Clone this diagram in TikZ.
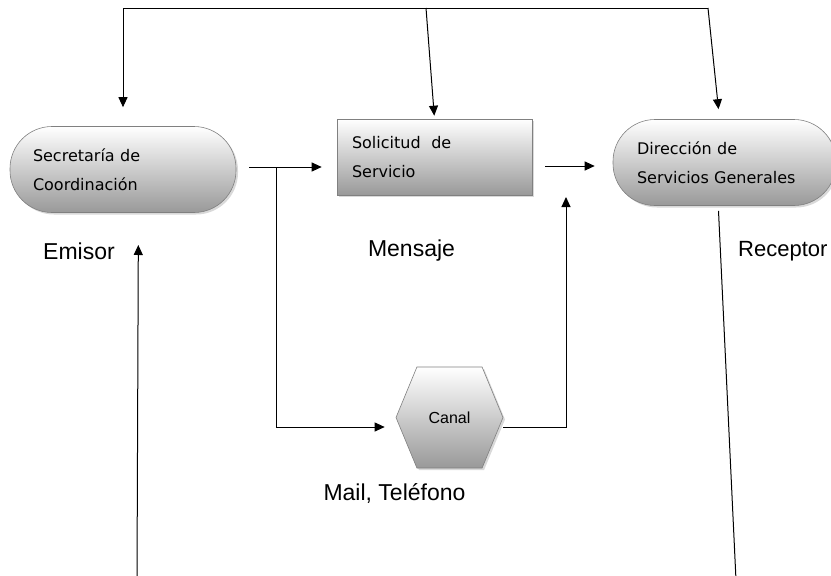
\documentclass[tikz,border=0pt]{standalone}
\usepackage{fontspec}
\setmainfont{Liberation Sans}
\newfontfamily\cajafont{DejaVu Sans}
\usetikzlibrary{arrows.meta,calc,shadows,shapes.symbols}

\begin{document}
\begin{tikzpicture}[x=1pt,y=-1pt,
	celda/.style={draw=black!50, line width=0.6pt, top color=white, bottom color=black!40,
		drop shadow={shadow xshift=2pt,shadow yshift=-2pt,opacity=0.3},
		font=\cajafont\fontsize{16}{29}\selectfont, align=left},
	pill/.style={celda, rounded corners=42pt, minimum height=86pt},
	caja/.style={celda, minimum height=76pt},
	etiqueta/.style={font=\fontsize{23}{27}\selectfont},
	flecha/.style={-{Triangle[length=10pt,width=9pt]}, line width=1pt},
	linea/.style={line width=1pt}]
	\useasboundingbox (0,0) rectangle (831,576);
	\node[pill, text width=180pt, inner xsep=23pt] (sec) at (123,169.5) {Secretaría de\\Coordinación};
	\node[caja, text width=165pt, inner xsep=15pt] (sol) at (434.5,157) {Solicitud~~de\\Servicio};
	\node[pill, text width=175pt, inner xsep=24pt] (dir) at (724.5,162.5) {Dirección de\\Servicios Generales};
	\node[celda, signal, signal to=east and west, signal pointer angle=135, minimum width=107pt,
		minimum height=101pt, inner sep=0pt, align=center, font=\fontsize{16}{18}\selectfont] (canal) at (449.5,417.5) {Canal};
	\node[etiqueta] (emisor) at (79,251) {Emisor};
	\node[etiqueta] (mensaje) at (411.5,251) {Mensaje};
	\node[etiqueta, anchor=west, inner sep=0pt, font=\fontsize{22}{26}\selectfont] (receptor) at (738,251) {Receptor};
	\node[etiqueta] (medio) at (394.5,493) {Mail, Teléfono};
	\coordinate (tl) at (123,8);
	\coordinate (tm) at (426,8);
	\coordinate (tr) at (708,8);
	\coordinate (split) at (276,167);
	\coordinate (merge) at (566,197);
	\coordinate (eb) at (137,580);
	\coordinate (rb) at (736,580);
	\draw[linea] (tl) -- (tr);
	\draw[flecha, shorten >=19pt] (tl) -- (sec.north);
	\draw[flecha, shorten >=3pt] (tm) -- (sol.north);
	\draw[flecha] (tr) -- ($(dir.north)+(-6,-10)$);
	\draw[flecha] ($(sec.east)+(13,-2.5)$) -- ($(sol.west)+(-15,10)$);
	\draw[flecha] (split) |- ($(canal.west)+(-11,9.5)$);
	\draw[flecha] ($(canal.east)+(0,9.5)$) -| (merge);
	\draw[flecha] ($(sol.east)+(13,9)$) -- ($(dir.west)+(-18,3.5)$);
	\draw[flecha] (eb) -- ($(emisor.east)+(20,-6)$);
	\draw[linea] ($(dir.south)+(-6,5)$) -- (rb);
\end{tikzpicture}
\end{document}
